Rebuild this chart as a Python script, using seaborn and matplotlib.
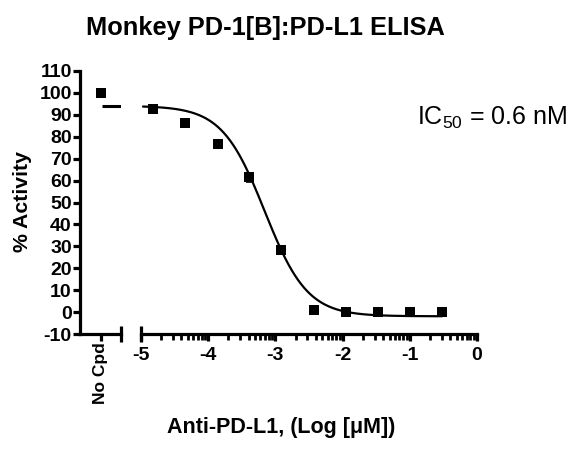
import numpy as np
import matplotlib
matplotlib.use("Agg")
import matplotlib.pyplot as plt
import seaborn as sns

# ---- data ----
log_conc = [-4.82, -4.34, -3.86, -3.39, -2.91, -2.43, -1.95, -1.48, -1.00, -0.52]
activity = [92.6, 86.4, 76.7, 61.5, 28.2, 0.9, 0.2, 0.2, 0.0, 0.3]
activity_err = [0.8, 0.8, 1.8, 2.0, 0.8, 0.8, 0.5, 0.5, 0.8, 0.8]

nocpd_x = [0]
nocpd_y = [99.8]
nocpd_err = [1.8]
nocpd_line = 94.1

# 4PL fit parameters
fit_top = 94.0
fit_bottom = -1.8
fit_logic50 = -3.16
fit_hill = 1.37
fit_range = (-4.97, -0.52)

yticks = list(range(-10, 111, 10))
xticks = [-5, -4, -3, -2, -1, 0]

sns.set_style("ticks")
plt.rcParams["font.family"] = ["Liberation Sans", "DejaVu Sans"]
plt.rcParams["mathtext.fontset"] = "custom"
plt.rcParams["mathtext.rm"] = "Liberation Sans"
plt.rcParams["text.color"] = "black"
plt.rcParams["xtick.minor.visible"] = True

W, H = 586, 453
fig = plt.figure(figsize=(W / 100, H / 100), dpi=100)
bot = (H - 334.3) / H
hgt = 263.6 / H
ax0 = fig.add_axes([80 / W, bot, 41 / W, hgt])
ax1 = fig.add_axes([141 / W, bot, 336 / W, hgt])

lw = 2.3
for ax in (ax0, ax1):
    ax.set_ylim(-10, 110)
    ax.set_facecolor("white")
    for s in ("top", "right"):
        ax.spines[s].set_visible(False)
    for s in ("left", "bottom"):
        ax.spines[s].set_linewidth(lw)
        ax.spines[s].set_color("black")

# ---- left "No Cpd" segment ----
ax0.set_xlim(-1, 1)
ax0.errorbar(nocpd_x, nocpd_y, yerr=nocpd_err, fmt="none", ecolor="black",
             elinewidth=1.2, capsize=2.5, capthick=1.2)
sns.scatterplot(x=nocpd_x, y=nocpd_y, ax=ax0, marker="s", s=46, color="black",
                edgecolor="black", linewidth=0, clip_on=False)
ax0.hlines(nocpd_line, 0.05, 1, color="black", linewidth=2.2)
ax0.set_yticks(yticks)
ax0.set_yticklabels([str(t) for t in yticks], fontsize=14, fontweight="bold")
ax0.set_xticks(nocpd_x)
ax0.set_xticks([], minor=True)
ax0.set_xticklabels(["No Cpd"], rotation=90, fontsize=12.5, fontweight="bold")
ax0.tick_params(axis="both", which="major", width=lw, length=5, pad=1,
                color="black", labelcolor="black")
ax0.plot([1], [0], transform=ax0.transAxes, marker="|", ms=12, mew=lw,
         color="black", clip_on=False)

# ---- right log-concentration segment ----
ax1.set_xlim(-5, 0)
ax1.spines["left"].set_visible(False)
ax1.set_yticks([])
xs = np.linspace(fit_range[0], fit_range[1], 300)
ys = fit_bottom + (fit_top - fit_bottom) / (1 + 10 ** ((xs - fit_logic50) * fit_hill))
sns.lineplot(x=xs, y=ys, ax=ax1, color="black", linewidth=1.6)
ax1.errorbar(log_conc, activity, yerr=activity_err, fmt="none", ecolor="black",
             elinewidth=1.2, capsize=2.5, capthick=1.2)
sns.scatterplot(x=log_conc, y=activity, ax=ax1, marker="s", s=46, color="black",
                edgecolor="black", linewidth=0, zorder=5)
ax1.set_xticks(xticks)
ax1.set_xticklabels([str(t) for t in xticks], fontsize=14, fontweight="bold")
minor = [d + np.log10(k) for d in range(-5, 0) for k in range(2, 10)]
ax1.set_xticks(minor, minor=True)
ax1.tick_params(axis="x", which="major", width=lw, length=5, pad=4,
                color="black", labelcolor="black")
ax1.tick_params(axis="x", which="minor", width=2, length=4, color="black",
                bottom=True, direction="out")
ax1.plot([0], [0], transform=ax1.transAxes, marker="|", ms=12, mew=lw,
         color="black", clip_on=False)

# ---- text ----
fig.text(265 / W, 1 - 28 / H, "Monkey PD-1[B]:PD-L1 ELISA", ha="center",
         va="center", fontsize=18.3, fontweight="bold", color="black")
fig.text(281 / W, 1 - 428 / H, "Anti-PD-L1, (Log [\u03bcM])", ha="center",
         va="center", fontsize=15.5, fontweight="bold", color="black")
fig.text(22 / W, 1 - 201 / H, "% Activity", ha="center", va="center",
         rotation=90, fontsize=15.3, fontweight="bold", color="black")
fig.text(492 / W, 1 - 118 / H, r"IC$_\mathregular{50}$ = 0.6 nM", ha="center",
         va="center", fontsize=18, color="black")

fig.savefig("out.png", dpi=100, facecolor="white")
